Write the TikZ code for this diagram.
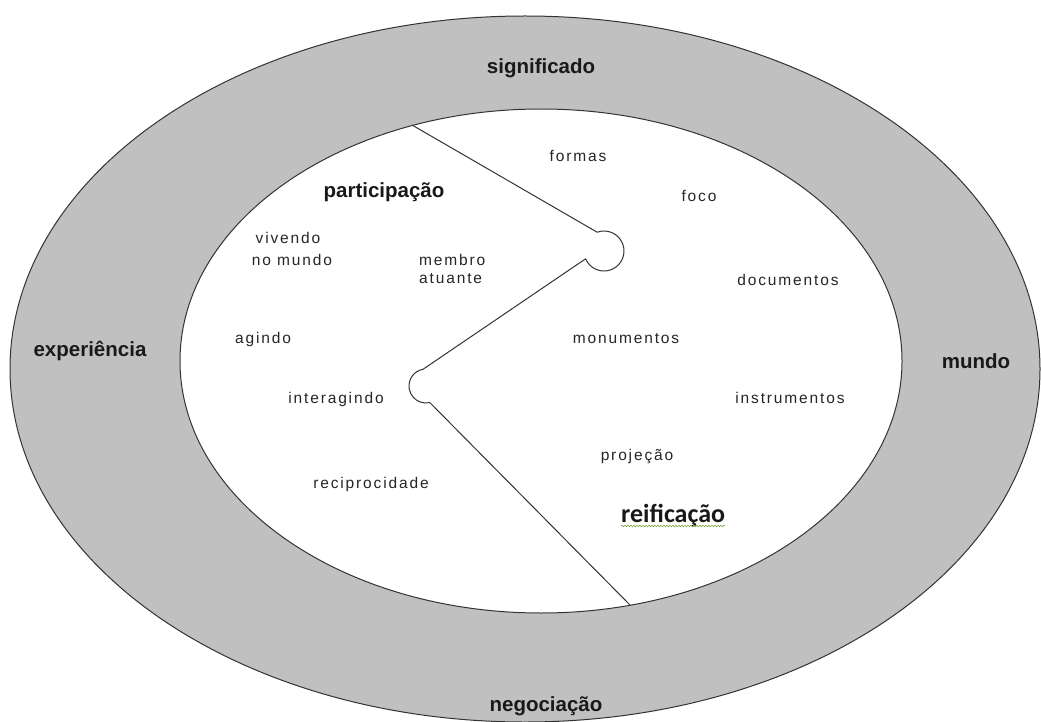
\documentclass[tikz,border=0pt]{standalone}
\usepackage{fontspec}
\setmainfont{Liberation Sans}
\newfontfamily\smallfam[LetterSpace=12]{Liberation Sans}
\newfontfamily\calfam{Carlito}
\usetikzlibrary{decorations.pathmorphing,calc}
\definecolor{ring}{RGB}{192,192,192}
\definecolor{spell}{RGB}{120,170,60}
\begin{document}
\begin{tikzpicture}[x=1pt,y=-1pt,
  small/.style={font=\smallfam\fontsize{15.5}{18}\selectfont, text=black!85, inner sep=0pt, anchor=base},
  lab/.style={font=\bfseries\fontsize{20.5}{24}\selectfont, text=black!90, inner sep=0pt, anchor=base},
  boundary/.style={draw=black!80, line width=1pt},
  divider/.style={draw=black!80, line width=1pt, line join=round}]
\useasboundingbox (0,0) rectangle (1041,722);
\fill[white] (0,0) rectangle (1041,722);
% rings
\draw[boundary, fill=ring] (525,369) ellipse [x radius=515, y radius=353];
\draw[boundary, fill=white] (541,361) ellipse [x radius=361, y radius=252];
% divider
\coordinate (p0) at (412,125);
\coordinate (c1) at (604,251);
\coordinate (c2) at (426,386);
\coordinate (p3) at (630,605);
\draw[divider] (p0) -- ($(c1)+(-110:20)$) arc[start angle=-110, end angle=157, radius=20]
  -- ($(c2)+(-100:17)$) arc[start angle=-100, end angle=-283, radius=17] -- (p3);
% ring labels
\node[lab] (signif) at (541,74) {significado};
\node[lab] (exper) at (90,356) {experiência};
\node[lab] (mundo) at (976,368) {mundo};
\node[lab] (negoc) at (546,711) {negociação};
% participation side
\node[lab] (partic) at (384,197) {participação};
\node[small] (viv1) at (288,243) {vivendo};
\node[small] (viv2) at (292,265) {no mundo};
\node[small, anchor=base west] (mem1) at (419,265) {membro};
\node[small, anchor=base west] (mem2) at (419,283) {atuante};
\node[small] (agindo) at (263,343) {agindo};
\node[small] (interag) at (336,403) {interagindo};
\node[small] (recip) at (371,488) {reciprocidade};
% reification side
\node[small] (formas) at (578,162) {formas};
\node[small] (foco) at (699,202) {foco};
\node[small] (docs) at (788,285) {documentos};
\node[small] (monum) at (626,343) {monumentos};
\node[small] (instr) at (790,403) {instrumentos};
\node[small] (proj) at (637,460) {projeção};
\node[font=\calfam\bfseries\fontsize{26}{30}\selectfont, text=black!90, inner sep=0pt, anchor=base west] (reif) at (621,522) {reificação};
\draw[spell, line width=0.6pt, decorate, decoration={snake, amplitude=0.8pt, segment length=3pt}]
  ([yshift=-4pt]reif.base west) -- ([yshift=-4pt]reif.base east);
\end{tikzpicture}
\end{document}
